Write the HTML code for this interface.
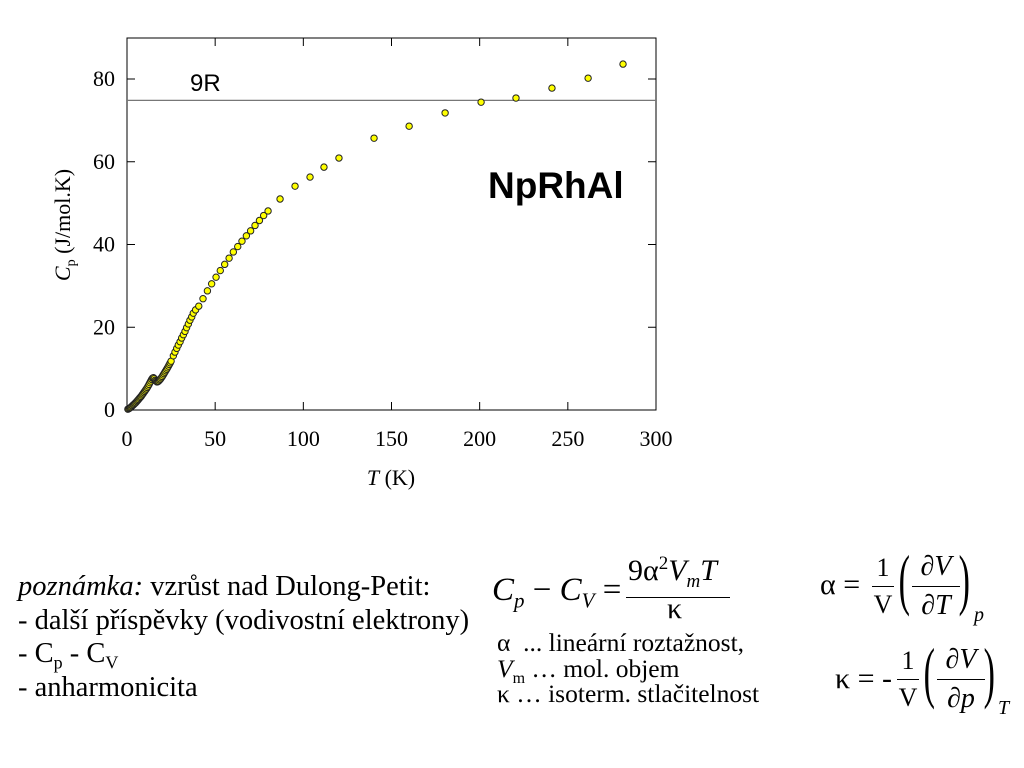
<!DOCTYPE html>
<html><head><meta charset="utf-8">
<style>
body{margin:0;width:1024px;height:768px;background:#fff;position:relative;overflow:hidden;font-family:"Liberation Serif",serif;color:#000}
.a{position:absolute;white-space:nowrap}
.s{font-family:"Liberation Sans",sans-serif}
</style></head><body>
<svg id="chart" width="1024" height="520" style="position:absolute;left:0;top:0"></svg>

<div class="a" style="left:18px;top:570px;font-size:28.5px;line-height:33.5px">
<i>poznámka:</i> vzrůst nad Dulong-Petit:<br>- další příspěvky (vodivostní elektrony)<br>- C<sub style="font-size:18px;line-height:0">p</sub> - C<sub style="font-size:18px;line-height:0">V</sub><br>- anharmonicita</div>

<div class="a" style="left:492px;top:572px;font-size:33px"><i>C</i><sub style="font-size:21px"><i>p</i></sub> − <i>C</i><sub style="font-size:21px"><i>V</i></sub> =</div>
<div class="a" style="left:628px;top:553px;font-size:30px">9α<sup style="font-size:19px">2</sup><i>V</i><sub style="font-size:19px"><i>m</i></sub><i>T</i></div>
<div class="a" style="left:626px;top:597px;width:104px;height:1px;background:#000"></div>
<div class="a" style="left:667px;top:592px;font-size:30px">κ</div>

<div class="a" style="left:497px;top:630px;font-size:25.5px;line-height:25.5px">α &nbsp;... lineární roztažnost,<br><i>V</i><sub style="font-size:16px;line-height:0">m</sub> … mol. objem<br>κ … isoterm. stlačitelnost</div>

<div class="a" style="left:820px;top:568px;font-size:30px">α =</div>
<div class="a" style="left:872px;top:550px;font-size:26px;line-height:36px;text-align:center;width:22px">1<div style="border-top:1px solid #000">V</div></div>
<div class="a" style="left:912px;top:548px;font-size:28px;line-height:38px;text-align:center;width:48px"><i>∂V</i><div style="border-top:1px solid #000"><i>∂T</i></div></div>
<div class="a" style="left:893px;top:540px;font-size:68px;font-weight:100;transform:scaleX(0.5)">(</div>
<div class="a" style="left:953px;top:540px;font-size:68px;font-weight:100;transform:scaleX(0.5)">)</div>
<div class="a" style="left:974px;top:604px;font-size:20px"><i>p</i></div>

<div class="a" style="left:835px;top:662px;font-size:30px">κ = -</div>
<div class="a" style="left:897px;top:643px;font-size:26px;line-height:36px;text-align:center;width:22px">1<div style="border-top:1px solid #000">V</div></div>
<div class="a" style="left:937px;top:641px;font-size:28px;line-height:38px;text-align:center;width:48px"><i>∂V</i><div style="border-top:1px solid #000"><i>∂p</i></div></div>
<div class="a" style="left:918px;top:633px;font-size:68px;transform:scaleX(0.5)">(</div>
<div class="a" style="left:978px;top:633px;font-size:68px;transform:scaleX(0.5)">)</div>
<div class="a" style="left:998px;top:697px;font-size:20px"><i>T</i></div>

<script>
const temps=[0.5,1,1.5,2,2.5,3,3.5,4,4.5,5,5.5,6,6.5,7,7.5,8,8.5,9,9.5,10,10.5,11,11.5,12,12.5,13,13.5,14,14.5,15,15.5,16,16.5,17,17.5,18,18.5,19,19.5,20,20.5,21,21.5,22,22.5,23,23.5,24,24.5,25,26.3,27.2,28.2,29.1,30.1,31,32,32.9,33.8,34.8,35.7,36.7,37.6,38.9,40.7,43.1,45.6,48,50.5,52.9,55.4,57.9,60.3,62.8,65.2,67.7,70.1,72.6,75.1,77.5,80,86.8,95.3,103.8,111.7,120.2,140.1,160,180.4,200.8,220.6,241,261.5,281.3];
const cpVals=[0.2,0.3,0.45,0.6,0.8,1.0,1.2,1.4,1.6,1.8,2.05,2.3,2.55,2.8,3.05,3.3,3.6,3.9,4.2,4.5,4.8,5.1,5.45,5.8,6.2,6.6,7.0,7.4,7.7,7.8,7.6,7.2,7.0,6.8,6.85,7.0,7.25,7.5,7.8,8.1,8.45,8.8,9.15,9.5,9.85,10.2,10.6,11.0,11.4,11.8,13.1,14.0,14.9,15.7,16.5,17.4,18.2,19.0,19.9,20.8,21.7,22.5,23.4,24.2,25.1,26.9,28.8,30.5,32.1,33.7,35.2,36.7,38.2,39.5,40.8,42.1,43.3,44.6,45.8,47.0,48.1,51.0,54.1,56.3,58.7,60.9,65.7,68.6,71.8,74.4,75.4,77.8,80.2,83.6];
const xTicks=[0,50,100,150,200,250,300];
const yTicks=[0,20,40,60,80];
const dulongPetit=74.83;
const NS="http://www.w3.org/2000/svg";
const svg=document.getElementById('chart');
const X=t=>127+t*(656-127)/300;
const Y=v=>410-v*(410-79)/80;
function el(tag,attrs,parent){const e=document.createElementNS(NS,tag);for(const k in attrs)e.setAttribute(k,attrs[k]);(parent||svg).appendChild(e);return e;}
const frame=el('rect',{x:127,y:38,width:529,height:372,fill:'none',stroke:'#000','stroke-width':1});


xTicks.forEach(t=>{
  const l=el('line',{x1:X(t),x2:X(t),y1:410,y2:402,stroke:'#000'});
  
  
  const l2=el('line',{x1:X(t),x2:X(t),y1:38,y2:46,stroke:'#000'});
  
  
  const tx=el('text',{x:X(t),y:446,'text-anchor':'middle','font-size':22,'font-family':'Liberation Serif, serif'});
  tx.textContent=t;
  
  
});
yTicks.forEach(v=>{
  const l=el('line',{x1:127,x2:135,y1:Y(v),y2:Y(v),stroke:'#000'});
  
  
  const l2=el('line',{x1:648,x2:656,y1:Y(v),y2:Y(v),stroke:'#000'});
  
  
  const tx=el('text',{x:115,y:Y(v)+7,'text-anchor':'end','font-size':22,'font-family':'Liberation Serif, serif'});
  tx.textContent=v;
  
  
});
const dp=el('line',{x1:127,x2:656,y1:Y(dulongPetit),y2:Y(dulongPetit),stroke:'#777','stroke-width':1.3});


const r9=el('text',{x:190,y:91,'font-size':24,'font-family':'Liberation Sans, sans-serif'});
r9.textContent='9R';


const np=el('text',{x:488,y:198,'font-size':37,'font-weight':'bold','font-family':'Liberation Sans, sans-serif'});
np.textContent='NpRhAl';


temps.forEach((t,i)=>{
  const c=el('circle',{cx:X(t),cy:Y(cpVals[i]),r:3.2,fill:'#ffff00',stroke:'#222','stroke-width':1});
  
  
});
const xl=el('text',{x:391,y:485,'text-anchor':'middle','font-size':22,'font-family':'Liberation Serif, serif'});
xl.innerHTML='<tspan font-style="italic">T</tspan> (K)';


const yl=el('text',{x:0,y:0,'text-anchor':'middle','font-size':22,'font-family':'Liberation Serif, serif',transform:'translate(70,225) rotate(-90)'});
yl.innerHTML='<tspan font-style="italic">C</tspan><tspan font-size="14" dy="5">p</tspan><tspan dy="-5"> (J/mol.K)</tspan>';


</script>
</body></html>
